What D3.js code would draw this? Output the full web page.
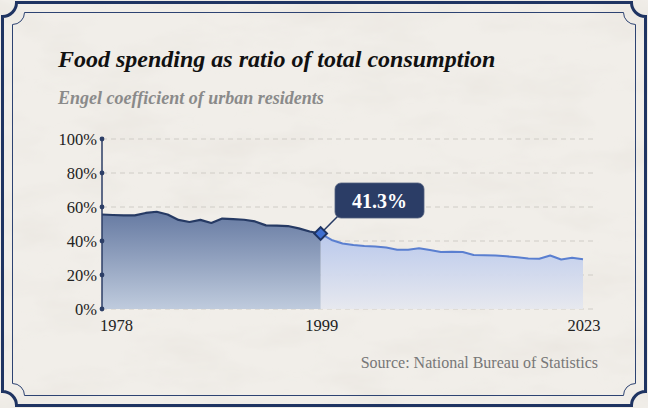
<!DOCTYPE html>
<html><head><meta charset="utf-8">
<script src="https://cdn.jsdelivr.net/npm/d3@7"></script>
<style>html,body{margin:0;padding:0;background:#f1eee9;}svg{display:block;}</style>
</head><body>
<script>
const years = [1978,1980,1981,1982,1983,1984,1985,1986,1987,1988,1989,1990,1991,1992,1993,1994,1995,1996,1997,1998,1999,
  2000,2001,2002,2003,2004,2005,2006,2007,2008,2009,2010,2011,2012,2013,2014,2015,2016,2017,2018,2019,2020,2021,2022,2023];
const engel = [55.6,55.3,55.1,55.1,56.5,57.2,55.6,52.4,51.2,52.4,50.6,53.2,52.9,52.5,51.5,49.2,49.1,48.8,47.4,45.6,44.4,
  40.6,38.5,37.6,37.1,36.8,36.2,34.9,34.8,35.7,34.7,33.5,33.7,33.5,31.8,31.6,31.4,31.0,30.4,29.7,29.6,31.5,29.1,30.1,29.3];
const yTicks = [0,20,40,60,80,100];
const xTickYears = [1978,1999,2023];
const splitYear = 1999;
const annotationText = "41.3%";
const titleText = "Food spending as ratio of total consumption";
const subtitleText = "Engel coefficient of urban residents";
const sourceText = "Source: National Bureau of Statistics";

const W = 648, H = 408;
const SERIF = "Liberation Serif, Times New Roman, serif";
const data = years.map((y,i)=>({year:y, v:engel[i]}));
const svg = d3.select("body").append("svg").attr("width",W).attr("height",H);
const defs = svg.append("defs");

// paper texture
const f = defs.append("filter").attr("id","paper").attr("x",0).attr("y",0).attr("width","100%").attr("height","100%");
f.append("feTurbulence").attr("type","fractalNoise").attr("baseFrequency","0.012 0.03").attr("numOctaves",4).attr("seed",7).attr("result","n");
f.append("feColorMatrix").attr("in","n").attr("type","matrix")
  .attr("values","0 0 0 0 0.80  0 0 0 0 0.77  0 0 0 0 0.72  0 0 0 -1.2 0.68").attr("result","c");
f.append("feComposite").attr("in","c").attr("in2","SourceGraphic").attr("operator","in");

const gDark = defs.append("linearGradient").attr("id","gDark").attr("x1",0).attr("y1",0).attr("x2",0).attr("y2",1);
gDark.append("stop").attr("offset","0%").attr("stop-color","#667aa2");
gDark.append("stop").attr("offset","100%").attr("stop-color","#bfcbdd");
const gLight = defs.append("linearGradient").attr("id","gLight").attr("x1",0).attr("y1",0).attr("x2",0).attr("y2",1);
gLight.append("stop").attr("offset","0%").attr("stop-color","#b7c7ec");
gLight.append("stop").attr("offset","100%").attr("stop-color","#e6e8ef");

svg.append("rect").attr("width",W).attr("height",H).attr("fill","#f1eee9");
svg.append("rect").attr("width",W).attr("height",H).attr("fill","#f1eee9").attr("filter","url(#paper)");

function notched(x0,y0,x1,y1,r){
  return `M${x0+r},${y0}L${x1-r},${y0}A${r},${r} 0 0 0 ${x1},${y0+r}L${x1},${y1-r}A${r},${r} 0 0 0 ${x1-r},${y1}`+
    `L${x0+r},${y1}A${r},${r} 0 0 0 ${x0},${y1-r}L${x0},${y0+r}A${r},${r} 0 0 0 ${x0+r},${y0}Z`;
}
svg.append("path").attr("d",notched(2.5,2.5,645.5,405.5,14)).attr("fill","none").attr("stroke","#1f3462").attr("stroke-width",3);
svg.append("path").attr("d",notched(12.5,12.5,635.5,395.5,12)).attr("fill","none").attr("stroke","#2d4372").attr("stroke-width",1);

const x = d3.scalePoint().domain(years).range([102,583]);
const y = d3.scaleLinear().domain([0,100]).range([309,139]);

// grid
svg.append("g").selectAll("line").data(yTicks).join("line")
  .attr("x1",102).attr("x2",593).attr("y1",d=>y(d)).attr("y2",d=>y(d))
  .attr("stroke","#cfccc6").attr("stroke-width",1).attr("stroke-dasharray","5,4");

const area = d3.area().x(d=>x(d.year)).y0(y(0)).y1(d=>y(d.v));
const line = d3.line().x(d=>x(d.year)).y(d=>y(d.v));
const early = data.filter(d=>d.year<=splitYear);
const late = data.filter(d=>d.year>=splitYear);

svg.append("path").attr("d",area(late)).attr("fill","url(#gLight)").attr("opacity",0.95);
svg.append("path").attr("d",line(late)).attr("fill","none").attr("stroke","#5a7fd0").attr("stroke-width",2).attr("stroke-linejoin","round");
svg.append("path").attr("d",area(early)).attr("fill","url(#gDark)");
svg.append("path").attr("d",line(early)).attr("fill","none").attr("stroke","#263a64").attr("stroke-width",2.2).attr("stroke-linejoin","round");

// y axis
const ax = svg.append("g");
ax.append("line").attr("x1",102).attr("x2",102).attr("y1",y(0)).attr("y2",y(100)).attr("stroke","#2c3e66").attr("stroke-width",1.5);
ax.selectAll("circle").data(yTicks).join("circle").attr("cx",102).attr("cy",d=>y(d)).attr("r",2.4).attr("fill","#2c3e66");
ax.selectAll("text").data(yTicks).join("text").attr("x",97).attr("y",d=>y(d)+5.5)
  .attr("text-anchor","end").attr("font-family",SERIF).attr("font-size",16.5).attr("fill","#222")
  .text(d=>d+"%");

// x labels
svg.append("g").selectAll("text").data(xTickYears).join("text")
  .attr("x",(d,i)=> i===0 ? x(d)-2 : x(d)+1).attr("y",331)
  .attr("text-anchor",(d,i)=> i===0 ? "start" : "middle")
  .attr("font-family",SERIF).attr("font-size",16.5).attr("fill","#222")
  .text(d=>d);

// annotation
const sp = data.find(d=>d.year===splitYear);
const mx = x(sp.year), my = y(sp.v);
const bx = 335, by = 183, bw = 89, bh = 35;
svg.append("line").attr("x1",mx).attr("y1",my).attr("x2",bx+4).attr("y2",by+bh-3).attr("stroke","#263a64").attr("stroke-width",1.5);
svg.append("rect").attr("x",bx).attr("y",by).attr("width",bw).attr("height",bh).attr("rx",6).attr("fill","#2b3d66").attr("stroke","#52607e").attr("stroke-width",0.8);
svg.append("text").attr("x",bx+bw/2).attr("y",by+bh/2+7).attr("text-anchor","middle")
  .attr("font-family",SERIF).attr("font-weight","bold").attr("font-size",20).attr("fill","#fff")
  .text(annotationText);
svg.append("rect").attr("x",mx-4.5).attr("y",my-4.5).attr("width",9).attr("height",9)
  .attr("transform",`rotate(45,${mx},${my})`).attr("fill","#3f6fd0").attr("stroke","#1f3462").attr("stroke-width",2);

// titles
svg.append("text").attr("x",58).attr("y",67).attr("font-family",SERIF)
  .attr("font-weight","bold").attr("font-style","italic").attr("font-size",24).attr("fill","#111").text(titleText);
svg.append("text").attr("x",58).attr("y",104).attr("font-family",SERIF)
  .attr("font-weight","bold").attr("font-style","italic").attr("font-size",18).attr("fill","#8a8a8a").text(subtitleText);
svg.append("text").attr("x",598).attr("y",368).attr("text-anchor","end").attr("font-family",SERIF)
  .attr("font-size",16).attr("fill","#777").text(sourceText);
</script>
</body></html>
